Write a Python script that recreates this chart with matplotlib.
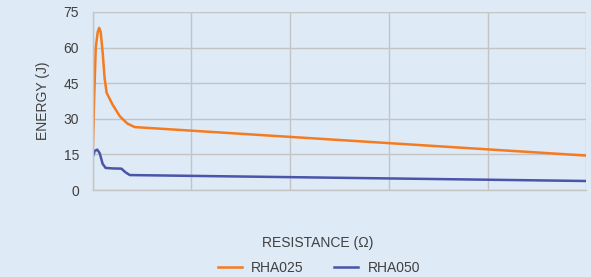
import matplotlib.pyplot as plt

plt.rcParams['font.family'] = ['Liberation Sans', 'DejaVu Sans']

# resistance positions (x has no tick labels, arbitrary units 0..100)
x_rha025 = [0, 0.3, 0.6, 1.0, 1.3, 1.6, 2.0, 2.4, 2.8, 4.0, 5.5, 7.0, 8.5, 100]
e_rha025 = [17, 40, 60, 66.5, 68.3, 66.5, 58, 47, 41, 36, 31, 28, 26.5, 14.5]

x_rha050 = [0, 0.4, 0.9, 1.4, 2.0, 2.6, 4.0, 5.8, 6.6, 7.5, 100]
e_rha050 = [14, 16.5, 17, 15.5, 11, 9.3, 9.1, 9.0, 7.5, 6.3, 3.8]

bg = '#DEEAF6'
fs = 10
fig = plt.figure(figsize=(5.91, 2.77), dpi=100, facecolor=bg)
ax = fig.add_axes([0.157, 0.314, 0.835, 0.643], facecolor=bg)

ax.plot(x_rha025, e_rha025, color='#F47B20', linewidth=1.8, label='RHA025')
ax.plot(x_rha050, e_rha050, color='#4A54A8', linewidth=1.8, label='RHA050')

ax.set_xlim(0, 100)
ax.set_ylim(0, 75)
ax.set_yticks([0, 15, 30, 45, 60, 75])
ax.set_xticks([0, 20, 40, 60, 80, 100])
ax.set_xticklabels([])
ax.tick_params(length=0, labelsize=fs, colors='#404040', pad=10)
ax.grid(True, color='#C4C4C4', linewidth=1)
ax.set_axisbelow(True)
for s in ['top', 'right']:
    ax.spines[s].set_visible(False)
for s in ['left', 'bottom']:
    ax.spines[s].set_color('#C4C4C4')
    ax.spines[s].set_linewidth(1)

ax.set_ylabel('ENERGY (J)', fontsize=fs, color='#404040', labelpad=10)
fig.text(0.538, 0.122, 'RESISTANCE (\u03a9)', fontsize=fs, color='#404040', ha='center', va='center')
fig.legend(loc='center', bbox_to_anchor=(0.54, 0.033), ncol=2, frameon=False,
           fontsize=fs, handlelength=1.7, handletextpad=0.7, columnspacing=2.2,
           labelcolor='#404040')

fig.savefig('out.png', dpi=100, facecolor=bg)
